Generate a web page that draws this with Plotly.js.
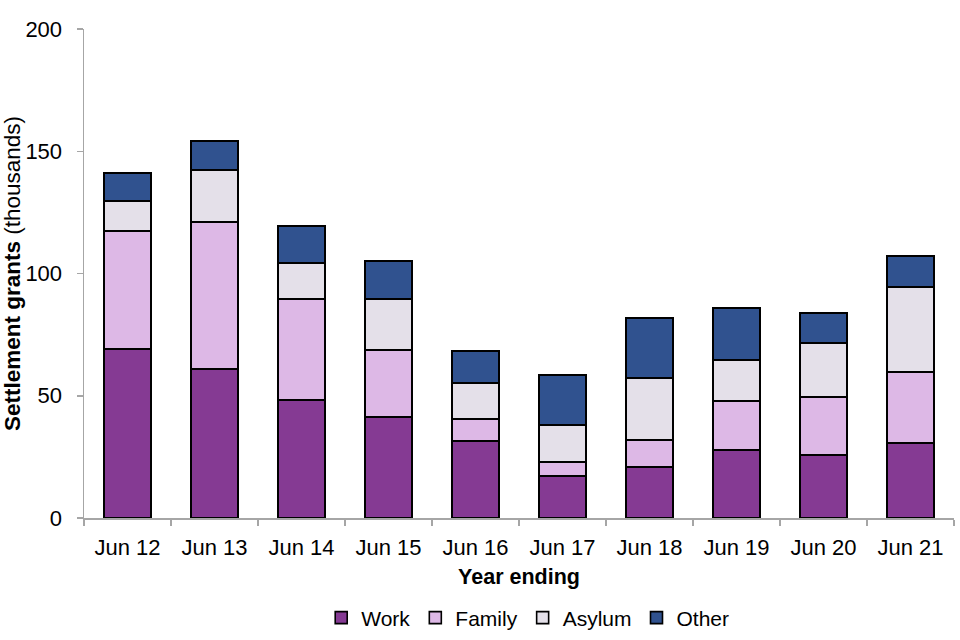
<!DOCTYPE html>
<html><head><meta charset="utf-8">
<script src="https://cdn.plot.ly/plotly-3.0.1.min.js"></script>
<style>body{margin:0;background:#fff}#chart{width:960px;height:640px}</style>
</head><body><div id="chart"></div>
<script>
const categories = ["Jun 12","Jun 13","Jun 14","Jun 15","Jun 16","Jun 17","Jun 18","Jun 19","Jun 20","Jun 21"];
const work   = [69.1, 60.9, 48.3, 41.3, 31.5, 17.2, 20.9, 27.8, 25.8, 30.7];
const family = [48.3, 60.2, 41.3, 27.4,  9.0,  5.7, 11.0, 20.1, 23.7, 29.0];
const asylum = [12.3, 21.2, 14.7, 20.9, 14.7, 15.1, 25.4, 16.7, 22.1, 34.8];
const other  = [11.4, 11.9, 15.1, 15.5, 13.1, 20.5, 24.5, 21.3, 12.2, 12.7];
const seriesNames = ["Work","Family","Asylum","Other"];
const colors = ["#853A93","#DDB8E6","#E4E0E9","#30528F"];
const vals = [work, family, asylum, other];
const traces = vals.map((v,i)=>({
  type:"bar", name:seriesNames[i], x:categories, y:v,
  marker:{color:colors[i], line:{color:"#000", width:1.6}},
  hoverinfo:"y+name"
}));
const layout = {
  barmode:"stack", bargap:0.46,
  width:960, height:640,
  margin:{l:84, r:6, t:29, b:122, autoexpand:false},
  paper_bgcolor:"#fff", plot_bgcolor:"#fff",
  font:{family:"Liberation Sans, Arial, sans-serif", size:22, color:"#000"},
  xaxis:{type:"category", showline:true, linecolor:"#a6a6a6", linewidth:1.5,
    ticks:"outside", tickson:"boundaries", ticklen:6, tickcolor:"#a6a6a6", tickwidth:1.5,
    ticklabelstandoff:9, automargin:false,
    tickfont:{size:22}, title:{text:"<b>Year ending</b>", font:{size:21.5}, standoff:10}},
  yaxis:{range:[0,200], dtick:50, showgrid:false, zeroline:false, showline:true,
    linecolor:"#a6a6a6", linewidth:1.5, ticks:"outside", ticklen:6, tickcolor:"#a6a6a6", tickwidth:1.5,
    ticklabelstandoff:10, automargin:false,
    tickfont:{size:22}, title:{text:"<b>Settlement grants</b> (thousands)", font:{size:22.5}, standoff:4}},
  legend:{orientation:"h", x:0.51, xanchor:"center", y:-0.2045, yanchor:"middle",
    font:{size:21}, itemwidth:30, traceorder:"normal"},
  showlegend:true
};
Plotly.newPlot("chart", traces, layout, {displayModeBar:false, staticPlot:true});
</script></body></html>
